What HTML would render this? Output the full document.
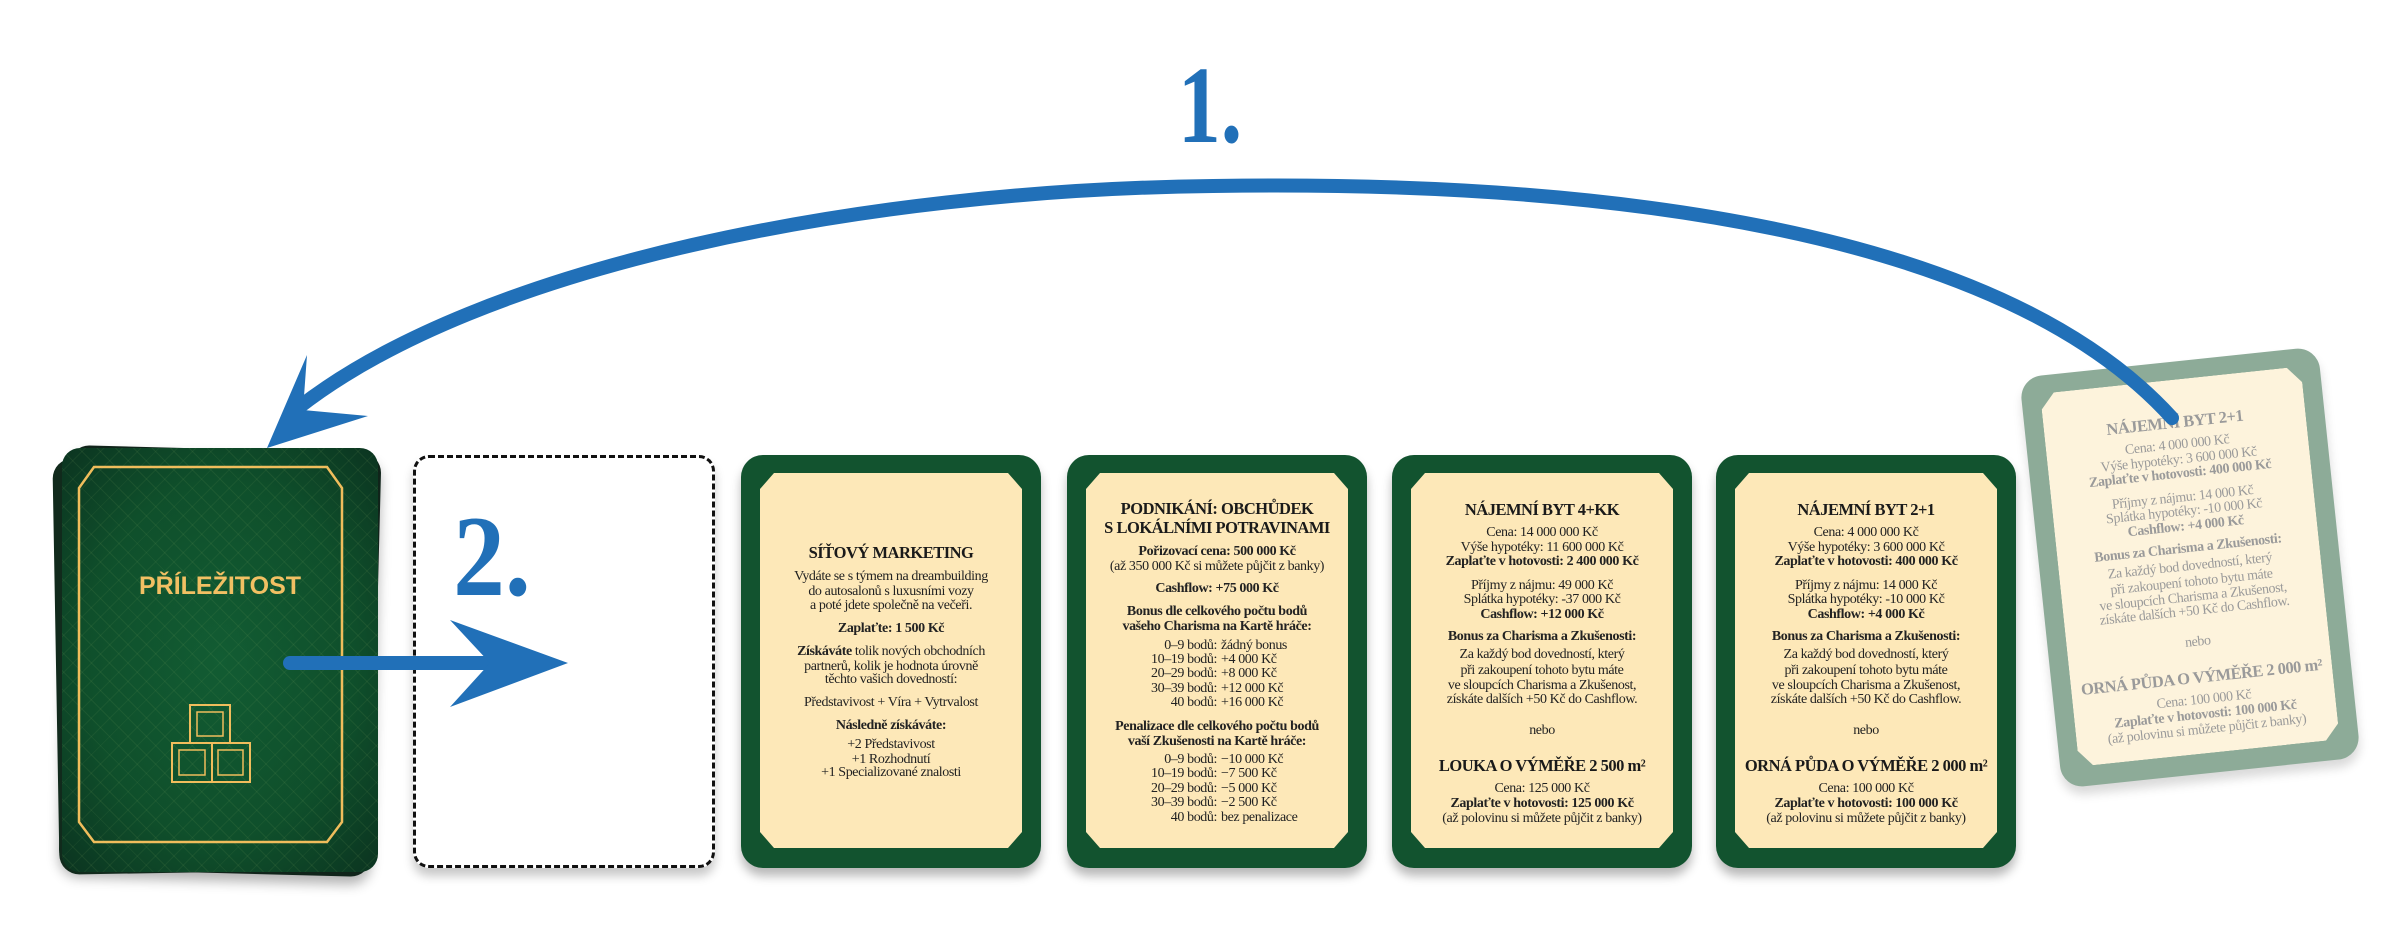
<!DOCTYPE html>
<html><head><meta charset="utf-8">
<style>
*{margin:0;padding:0;box-sizing:border-box}
body{width:2407px;height:937px;background:#fff;position:relative;overflow:hidden;font-family:"Liberation Serif",serif}
.card{position:absolute;width:300px;height:413px;border-radius:22px;background:#12532f;box-shadow:0 8px 10px rgba(0,0,0,.28)}
.panel{position:absolute;left:19px;right:19px;top:18px;bottom:20px;background:#fde8b8;clip-path:polygon(14px 0,calc(100% - 14px) 0,100% 16px,100% calc(100% - 16px),calc(100% - 14px) 100%,14px 100%,0 calc(100% - 16px),0 16px)}
.l{position:absolute;left:0;width:300px;text-align:center;font-size:14px;line-height:16px;height:16px;color:#222;letter-spacing:-0.4px;white-space:nowrap}
.t{font-size:16.5px;letter-spacing:-0.5px;color:#1a1a1a}
.b{font-weight:bold}
.r span.a{display:inline-block;width:150px;text-align:right}
.r span.v{display:inline-block;width:150px;text-align:left;padding-left:4px}
.r{text-align:left}
.fade{background:#8dab98}
.fade .panel{background:#fdf3dc}
.fade .l{color:#9a9a9a}
</style></head><body>

<!-- deck -->
<div style="position:absolute;left:64px;top:449px;width:312px;height:424px;border-radius:20px;background:#10241a;transform:rotate(1.5deg);box-shadow:0 8px 12px rgba(0,0,0,.3)"></div>
<div style="position:absolute;left:56px;top:456px;width:318px;height:416px;border-radius:20px;background:#112a1c;transform:rotate(-1deg)"></div>
<div style="position:absolute;left:62px;top:448px;width:316px;height:424px;border-radius:18px;background:radial-gradient(ellipse at center,#125c33 0%,#0f4f2b 60%,#0b3420 100%);overflow:hidden">
 <div style="position:absolute;inset:0;background:repeating-linear-gradient(45deg,rgba(255,255,255,0) 0 12px,rgba(120,160,90,.12) 12px 13px),repeating-linear-gradient(-45deg,rgba(255,255,255,0) 0 12px,rgba(120,160,90,.10) 12px 13px)"></div>
 <svg style="position:absolute;left:0;top:0" width="316" height="424">
  <polygon points="32,19 265,19 280,40 280,374 265,394 32,394 17,374 17,40" fill="none" stroke="#f0bd5c" stroke-width="2.5"/>
  <g fill="none" stroke="#f0bd5c" stroke-width="2">
   <rect x="128" y="257" width="40" height="38"/><rect x="135" y="264" width="26" height="24" stroke-width="1.5"/>
   <rect x="110" y="295" width="40" height="39"/><rect x="117" y="302" width="26" height="25" stroke-width="1.5"/>
   <rect x="150" y="295" width="38" height="39"/><rect x="156" y="302" width="25" height="25" stroke-width="1.5"/>
  </g>
 </svg>
 <div style="position:absolute;left:0;width:316px;top:124px;text-align:center;font-family:'Liberation Sans',sans-serif;font-weight:bold;font-size:25px;color:#f2c063;letter-spacing:0">PŘÍLEŽITOST</div>
</div>

<!-- dashed slot -->
<div style="position:absolute;left:413px;top:455px;width:302px;height:413px;border:3.5px dashed #111;border-radius:16px;background:#fff;box-shadow:0 8px 10px rgba(0,0,0,.22)"></div>

<!-- card 1 -->
<div class="card" style="left:741px;top:455px"><div class="panel"></div>
 <div class="l t b" style="top:90px">SÍŤOVÝ MARKETING</div>
 <div class="l" style="top:114px">Vydáte se s týmem na dreambuilding</div>
 <div class="l" style="top:129px">do autosalonů s luxusními vozy</div>
 <div class="l" style="top:143px">a poté jdete společně na večeři.</div>
 <div class="l b" style="top:166px">Zaplaťte: 1 500 Kč</div>
 <div class="l" style="top:189px"><b>Získáváte</b> tolik nových obchodních</div>
 <div class="l" style="top:204px">partnerů, kolik je hodnota úrovně</div>
 <div class="l" style="top:217px">těchto vašich dovedností:</div>
 <div class="l" style="top:240px">Představivost + Víra + Vytrvalost</div>
 <div class="l b" style="top:263px">Následně získáváte:</div>
 <div class="l" style="top:282px">+2 Představivost</div>
 <div class="l" style="top:297px">+1 Rozhodnutí</div>
 <div class="l" style="top:310px">+1 Specializované znalosti</div>
</div>

<!-- card 2 -->
<div class="card" style="left:1067px;top:455px"><div class="panel"></div>
 <div class="l t b" style="top:46px">PODNIKÁNÍ: OBCHŮDEK</div>
 <div class="l t b" style="top:65px">S LOKÁLNÍMI POTRAVINAMI</div>
 <div class="l b" style="top:89px">Pořizovací cena: 500 000 Kč</div>
 <div class="l" style="top:104px">(až 350 000 Kč si můžete půjčit z banky)</div>
 <div class="l b" style="top:126px">Cashflow: +75 000 Kč</div>
 <div class="l b" style="top:149px">Bonus dle celkového počtu bodů</div>
 <div class="l b" style="top:164px">vašeho Charisma na Kartě hráče:</div>
 <div class="l r" style="top:183px"><span class="a">0–9 bodů:</span><span class="v">žádný bonus</span></div>
 <div class="l r" style="top:197px"><span class="a">10–19 bodů:</span><span class="v">+4 000 Kč</span></div>
 <div class="l r" style="top:211px"><span class="a">20–29 bodů:</span><span class="v">+8 000 Kč</span></div>
 <div class="l r" style="top:226px"><span class="a">30–39 bodů:</span><span class="v">+12 000 Kč</span></div>
 <div class="l r" style="top:240px"><span class="a">40 bodů:</span><span class="v">+16 000 Kč</span></div>
 <div class="l b" style="top:264px">Penalizace dle celkového počtu bodů</div>
 <div class="l b" style="top:279px">vaší Zkušenosti na Kartě hráče:</div>
 <div class="l r" style="top:297px"><span class="a">0–9 bodů:</span><span class="v">−10 000 Kč</span></div>
 <div class="l r" style="top:311px"><span class="a">10–19 bodů:</span><span class="v">−7 500 Kč</span></div>
 <div class="l r" style="top:326px"><span class="a">20–29 bodů:</span><span class="v">−5 000 Kč</span></div>
 <div class="l r" style="top:340px"><span class="a">30–39 bodů:</span><span class="v">−2 500 Kč</span></div>
 <div class="l r" style="top:355px"><span class="a">40 bodů:</span><span class="v">bez penalizace</span></div>
</div>

<!-- card 3 -->
<div class="card" style="left:1392px;top:455px"><div class="panel"></div>
 <div class="l t b" style="top:47px">NÁJEMNÍ BYT 4+KK</div>
 <div class="l" style="top:70px">Cena: 14 000 000 Kč</div>
 <div class="l" style="top:85px">Výše hypotéky: 11 600 000 Kč</div>
 <div class="l b" style="top:99px">Zaplaťte v hotovosti: 2 400 000 Kč</div>
 <div class="l" style="top:123px">Příjmy z nájmu: 49 000 Kč</div>
 <div class="l" style="top:137px">Splátka hypotéky: -37 000 Kč</div>
 <div class="l b" style="top:152px">Cashflow: +12 000 Kč</div>
 <div class="l b" style="top:174px">Bonus za Charisma a Zkušenosti:</div>
 <div class="l" style="top:192px">Za každý bod dovedností, který</div>
 <div class="l" style="top:208px">při zakoupení tohoto bytu máte</div>
 <div class="l" style="top:223px">ve sloupcích Charisma a Zkušenost,</div>
 <div class="l" style="top:237px">získáte dalších +50 Kč do Cashflow.</div>
 <div class="l" style="top:268px">nebo</div>
 <div class="l t b" style="top:303px">LOUKA O VÝMĚŘE 2 500 m²</div>
 <div class="l" style="top:326px">Cena: 125 000 Kč</div>
 <div class="l b" style="top:341px">Zaplaťte v hotovosti: 125 000 Kč</div>
 <div class="l" style="top:356px">(až polovinu si můžete půjčit z banky)</div>
</div>

<!-- card 4 -->
<div class="card" style="left:1716px;top:455px"><div class="panel"></div>
 <div class="l t b" style="top:47px">NÁJEMNÍ BYT 2+1</div>
 <div class="l" style="top:70px">Cena: 4 000 000 Kč</div>
 <div class="l" style="top:85px">Výše hypotéky: 3 600 000 Kč</div>
 <div class="l b" style="top:99px">Zaplaťte v hotovosti: 400 000 Kč</div>
 <div class="l" style="top:123px">Příjmy z nájmu: 14 000 Kč</div>
 <div class="l" style="top:137px">Splátka hypotéky: -10 000 Kč</div>
 <div class="l b" style="top:152px">Cashflow: +4 000 Kč</div>
 <div class="l b" style="top:174px">Bonus za Charisma a Zkušenosti:</div>
 <div class="l" style="top:192px">Za každý bod dovedností, který</div>
 <div class="l" style="top:208px">při zakoupení tohoto bytu máte</div>
 <div class="l" style="top:223px">ve sloupcích Charisma a Zkušenost,</div>
 <div class="l" style="top:237px">získáte dalších +50 Kč do Cashflow.</div>
 <div class="l" style="top:268px">nebo</div>
 <div class="l t b" style="top:303px">ORNÁ PŮDA O VÝMĚŘE 2 000 m²</div>
 <div class="l" style="top:326px">Cena: 100 000 Kč</div>
 <div class="l b" style="top:341px">Zaplaťte v hotovosti: 100 000 Kč</div>
 <div class="l" style="top:356px">(až polovinu si můžete půjčit z banky)</div>
</div>

<!-- faded rotated card -->
<div class="card fade" style="left:2040px;top:361px;transform:rotate(-6deg);box-shadow:0 8px 10px rgba(0,0,0,.15)"><div class="panel"></div>
 <div class="l t b" style="top:53px">NÁJEMNÍ BYT 2+1</div>
 <div class="l" style="top:76px">Cena: 4 000 000 Kč</div>
 <div class="l" style="top:91px">Výše hypotéky: 3 600 000 Kč</div>
 <div class="l b" style="top:105px">Zaplaťte v hotovosti: 400 000 Kč</div>
 <div class="l" style="top:129px">Příjmy z nájmu: 14 000 Kč</div>
 <div class="l" style="top:143px">Splátka hypotéky: -10 000 Kč</div>
 <div class="l b" style="top:158px">Cashflow: +4 000 Kč</div>
 <div class="l b" style="top:180px">Bonus za Charisma a Zkušenosti:</div>
 <div class="l" style="top:198px">Za každý bod dovedností, který</div>
 <div class="l" style="top:214px">při zakoupení tohoto bytu máte</div>
 <div class="l" style="top:229px">ve sloupcích Charisma a Zkušenost,</div>
 <div class="l" style="top:243px">získáte dalších +50 Kč do Cashflow.</div>
 <div class="l" style="top:274px">nebo</div>
 <div class="l t b" style="top:309px">ORNÁ PŮDA O VÝMĚŘE 2 000 m²</div>
 <div class="l" style="top:332px">Cena: 100 000 Kč</div>
 <div class="l b" style="top:347px">Zaplaťte v hotovosti: 100 000 Kč</div>
 <div class="l" style="top:362px">(až polovinu si můžete půjčit z banky)</div>
</div>

<!-- arrows and numbers -->
<svg style="position:absolute;left:0;top:0" width="2407" height="937">
 <path d="M2172 418 C2000 228 1600 180 1213 186 C860 190 480 266 298 408" fill="none" stroke="#2170b8" stroke-width="14" stroke-linecap="round"/>
 <polygon points="267,448 307,355 303,410 368,416" fill="#2170b8"/>
 <line x1="290" y1="663" x2="495" y2="663" stroke="#2170b8" stroke-width="14" stroke-linecap="round"/>
 <polygon points="568,663 450,620 490,663 450,707" fill="#2170b8"/>
 <text x="1210" y="142" text-anchor="middle" font-family="Liberation Serif,serif" font-weight="bold" font-size="110" fill="#2170b8" transform="translate(1210 0) scale(0.78 1) translate(-1210 0)">1.</text>
 <text x="492" y="595" text-anchor="middle" font-family="Liberation Serif,serif" font-weight="bold" font-size="115" fill="#2170b8" transform="translate(492 0) scale(0.9 1) translate(-492 0)">2.</text>
</svg>
</body></html>
